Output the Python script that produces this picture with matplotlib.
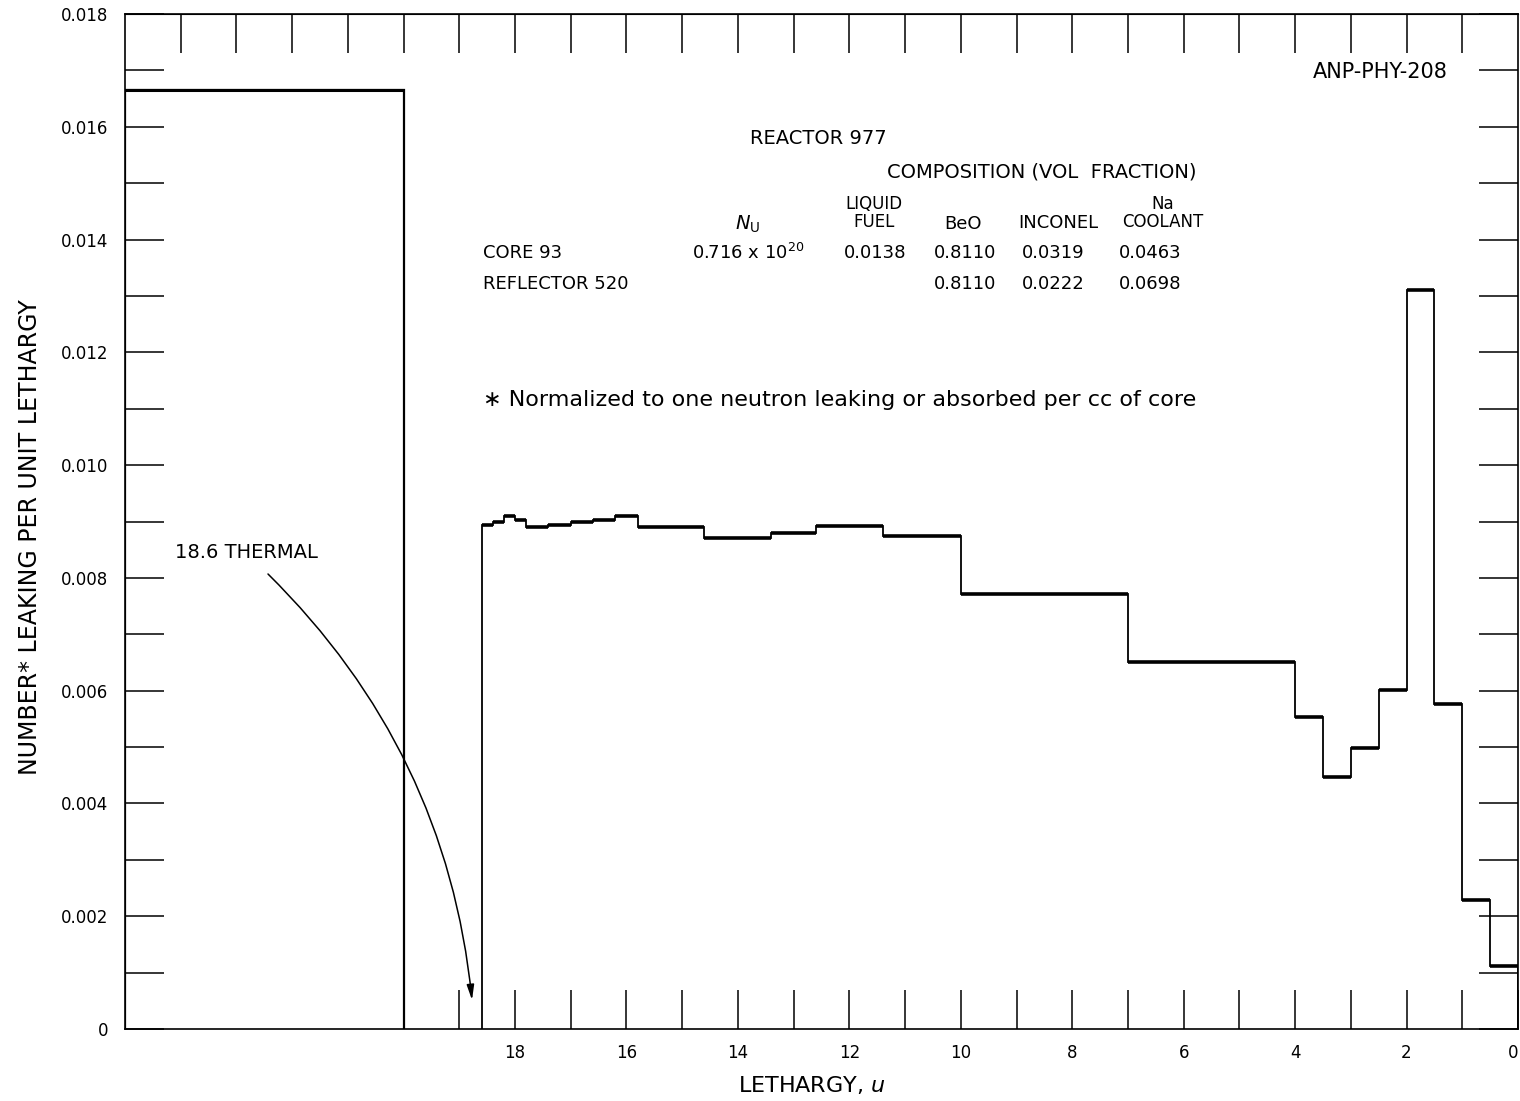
import numpy as np
import matplotlib
matplotlib.use("Agg")
import matplotlib.pyplot as plt
from matplotlib.ticker import FixedLocator, FixedFormatter

# ---------------- data ----------------
thermal_edges = [25.0, 20.0]
thermal_value = [0.01665]

group_edges = [18.6, 18.4, 18.2, 18.0, 17.8, 17.4, 17.0, 16.6, 16.2, 15.8,
               14.6, 13.4, 12.6, 11.4, 10.0, 7.0, 4.0, 3.5, 3.0, 2.5, 2.0,
               1.5, 1.0, 0.5, 0.0]
group_values = [0.00894, 0.00900, 0.00910, 0.00902, 0.00890, 0.00894, 0.00900,
                0.00902, 0.00910, 0.00891, 0.00870, 0.00880, 0.00892, 0.00874,
                0.00771, 0.00650, 0.00554, 0.00447, 0.00499, 0.00602, 0.01310,
                0.00576, 0.00229, 0.00112]

x_major_ticks = [18, 16, 14, 12, 10, 8, 6, 4, 2, 0]
x_major_labels = ["18", "16", "14", "12", "10", "8", "6", "4", "2", "0"]
x_minor_ticks = [19, 17, 15, 13, 11, 9, 7, 5, 3, 1]
top_ticks = list(range(1, 25))
y_major_ticks = [0, 0.002, 0.004, 0.006, 0.008, 0.010, 0.012, 0.014, 0.016, 0.018]
y_major_labels = ["0", "0.002", "0.004", "0.006", "0.008", "0.010", "0.012",
                  "0.014", "0.016", "0.018"]
y_minor_ticks = [0.001, 0.003, 0.005, 0.007, 0.009, 0.011, 0.013, 0.015, 0.017]

# ---------------- figure ----------------
W, H = 1520, 1101
fig = plt.figure(figsize=(W / 100, H / 100), dpi=100)
fig.patch.set_facecolor("white")
L, R, T, B = 125, 1518, 14, 1029
ax = fig.add_axes([L / W, (H - B) / H, (R - L) / W, (B - T) / H])
ax.set_xlim(25, 0)
ax.set_ylim(0, 0.018)
for s in ax.spines.values():
    s.set_linewidth(1.2)
    s.set_color("black")

# epithermal / fast groups
e = np.array(group_edges)[::-1]
v = np.array(group_values)[::-1]
ax.stairs(v, e, baseline=0, color="black", lw=1.3)
ax.hlines(v, e[:-1], e[1:], color="black", lw=2.6)

# thermal group
te = np.array(thermal_edges)[::-1]
tv = np.array(thermal_value)
ax.stairs(tv, te, baseline=0, color="black", lw=1.6)
ax.hlines(tv, te[:-1], te[1:], color="black", lw=2.2)

# ticks
ax.xaxis.set_major_locator(FixedLocator(x_major_ticks))
ax.xaxis.set_major_formatter(FixedFormatter(x_major_labels))
ax.xaxis.set_minor_locator(FixedLocator(x_minor_ticks))
ax.yaxis.set_major_locator(FixedLocator(y_major_ticks))
ax.yaxis.set_major_formatter(FixedFormatter(y_major_labels))
ax.yaxis.set_minor_locator(FixedLocator(y_minor_ticks))
ax.tick_params(axis="x", which="both", direction="in", length=28, width=1.1,
               top=False, bottom=True, pad=11, labelsize=12)
ax.tick_params(axis="y", which="both", direction="in", length=28, width=1.1,
               left=True, right=True, pad=12, labelsize=12)

fig.canvas.draw()
for lbl in ax.get_xticklabels():
    if lbl.get_text() == "0":
        lbl.set_horizontalalignment("right")

secax = ax.secondary_xaxis("top")
secax.set_xticks(top_ticks)
secax.set_xticklabels([])
secax.tick_params(direction="in", length=28, width=1.1)

# labels
fig.text(30 / W, 1 - 537 / H, "NUMBER* LEAKING PER UNIT LETHARGY", rotation=90,
         ha="center", va="center", fontsize=17)
fig.text(812 / W, 1 - 1085 / H, "LETHARGY, $u$", ha="center", va="center",
         fontsize=16)


def P(px, py):
    return ((px - L) / (R - L), (B - py) / (B - T))


def put(px, py, s, ha="center", fs=14, **kw):
    x, y = P(px, py)
    ax.text(x, y, s, transform=ax.transAxes, ha=ha, va="center",
            fontsize=fs, **kw)


put(1448, 72, "ANP-PHY-208", ha="right", fs=15)
put(818, 139, "REACTOR 977", fs=14)
put(1042, 172, "COMPOSITION (VOL  FRACTION)", fs=14)
put(748, 224, "$N_{\\mathrm{U}}$", fs=14)
put(874, 213, "LIQUID\nFUEL", fs=12, linespacing=1.0)
put(963, 224, "BeO", fs=13)
put(1058, 223, "INCONEL", fs=13)
put(1163, 213, "Na\nCOOLANT", fs=12, linespacing=1.0)
put(483, 253, "CORE 93", ha="left", fs=13)
put(748, 253, "0.716 x 10$^{20}$", fs=13)
put(875, 253, "0.0138", fs=13)
put(965, 253, "0.8110", fs=13)
put(1053, 253, "0.0319", fs=13)
put(1150, 253, "0.0463", fs=13)
put(483, 284, "REFLECTOR 520", ha="left", fs=13)
put(965, 284, "0.8110", fs=13)
put(1053, 284, "0.0222", fs=13)
put(1150, 284, "0.0698", fs=13)
put(483, 400, "\u2217 Normalized to one neutron leaking or absorbed per cc of core",
    ha="left", fs=16)
put(175, 552, "18.6 THERMAL", ha="left", fs=14)

# arrow to thermal group position
ax.annotate("", xy=P(472, 1000), xytext=P(268, 574),
            xycoords="axes fraction", textcoords="axes fraction",
            arrowprops=dict(arrowstyle="-|>,head_length=0.9,head_width=0.22",
                            connectionstyle="arc3,rad=-0.18", lw=1.1,
                            color="black", shrinkA=0, shrinkB=0))

fig.savefig("out.png", dpi=100, facecolor="white")
